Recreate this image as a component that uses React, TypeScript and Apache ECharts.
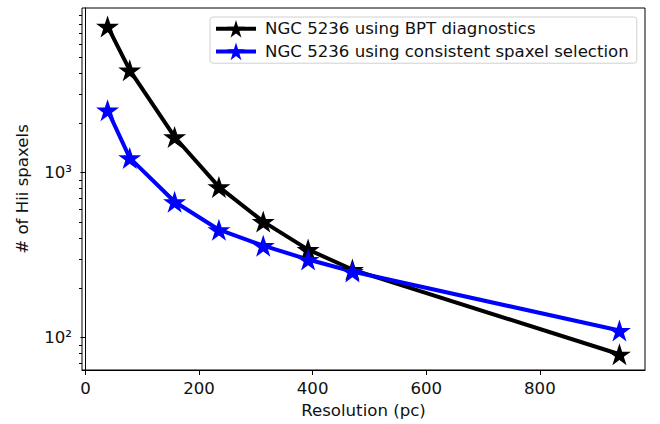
import React, { useEffect, useRef } from 'react';
import * as echarts from 'echarts';

// Resolution (pc)
const resolution = [39, 78, 157, 235, 313, 392, 470, 940];
// # of HII spaxels
const bptCounts = [7710, 4180, 1645, 819, 504, 341, 258, 79];
const consistentCounts = [2393, 1227, 665, 450, 360, 297, 251, 110];

const seriesNames = [
  'NGC 5236 using BPT diagnostics',
  'NGC 5236 using consistent spaxel selection',
];

const xTicks = [0, 200, 400, 600, 800];
const yMajorTicks = [100, 1000];
const yMajorLabels = ['10²', '10³'];
const yMinorTicks = [70, 80, 90, 200, 300, 400, 500, 600, 700, 800, 900, 2000, 3000, 4000, 5000, 6000, 7000, 8000, 9000];

const STAR =
  'path://M50,0L61.23,34.55L97.55,34.55L68.17,55.9L79.39,90.45L50,69.1L20.61,90.45L31.83,55.9L2.45,34.55L38.77,34.55Z';

const FONT = 'DejaVu Sans';
const FS = 16.6;

export default function App() {
  const ref = useRef<HTMLDivElement>(null);
  useEffect(() => {
    const chart = echarts.init(ref.current!, null, { renderer: 'svg' });
    const pair = (ys: number[]) => resolution.map((x, i) => [x, ys[i]]);
    const yFmt = (v: number) => {
      for (let i = 0; i < yMajorTicks.length; i++) {
        if (Math.abs(v - yMajorTicks[i]) / yMajorTicks[i] < 1e-6) return yMajorLabels[i];
      }
      return '';
    };
    chart.setOption({
      animation: false,
      backgroundColor: '#ffffff',
      textStyle: { fontFamily: FONT },
      grid: {
        left: 82,
        right: 15,
        top: 8,
        bottom: 54,
        show: true,
        borderColor: '#000',
        borderWidth: 1,
        backgroundColor: 'transparent',
      },
      legend: {
        orient: 'vertical',
        left: 210,
        top: 17,
        itemWidth: 40,
        itemHeight: 22,
        itemGap: 5,
        padding: [3, 8, 3, 4],
        borderColor: '#d0d0d0',
        borderWidth: 1,
        borderRadius: 3,
        backgroundColor: 'rgba(255,255,255,0.8)',
        lineStyle: { width: 4 },
        textStyle: { fontSize: FS, fontFamily: FONT, color: '#111', padding: [0, 0, 0, 4] },
        data: seriesNames,
      },
      xAxis: {
        type: 'value',
        min: -6,
        max: 985,
        name: 'Resolution (pc)',
        nameLocation: 'middle',
        nameGap: 31,
        nameTextStyle: { fontSize: FS, fontFamily: FONT, color: '#111' },
        axisLine: { show: true, onZero: false, lineStyle: { color: '#000', width: 1 } },
        axisTick: { show: true, inside: false, length: 5, customValues: xTicks, lineStyle: { color: '#000' } },
        axisLabel: { customValues: xTicks, fontSize: FS, fontFamily: FONT, color: '#111', margin: 10 },
        splitLine: { show: false },
      },
      yAxis: [
        {
          type: 'log',
          logBase: 10,
          min: 63.4,
          max: 9970,
          name: '# of Hii spaxels',
          nameLocation: 'middle',
          nameGap: 51,
          nameTextStyle: { fontSize: FS, fontFamily: FONT, color: '#111' },
          axisLine: { show: true, lineStyle: { color: '#000', width: 1 } },
          axisTick: { show: true, inside: false, length: 5, customValues: yMajorTicks, lineStyle: { color: '#000' } },
          axisLabel: {
            customValues: yMajorTicks,
            formatter: yFmt,
            fontSize: FS,
            fontFamily: FONT,
            color: '#111',
            margin: 10,
          },
          splitLine: { show: false },
        },
        {
          type: 'log',
          logBase: 10,
          min: 63.4,
          max: 9970,
          position: 'left',
          axisLine: { show: false },
          axisTick: { show: true, inside: false, length: 3, customValues: yMinorTicks, lineStyle: { color: '#000' } },
          axisLabel: { show: false },
          splitLine: { show: false },
        },
      ],
      series: [
        {
          name: seriesNames[0],
          type: 'line',
          data: pair(bptCounts),
          yAxisIndex: 0,
          color: '#000000',
          lineStyle: { width: 4, color: '#000000' },
          symbol: STAR,
          symbolSize: [23, 22],
          itemStyle: { color: '#000000' },
        },
        {
          name: seriesNames[1],
          type: 'line',
          data: pair(consistentCounts),
          yAxisIndex: 0,
          color: '#0000ff',
          lineStyle: { width: 4, color: '#0000ff' },
          symbol: STAR,
          symbolSize: [23, 22],
          itemStyle: { color: '#0000ff' },
        },
      ],
    });
    return () => chart.dispose();
  }, []);
  return (
    <div
      ref={ref}
      style={{ position: 'absolute', left: 0, top: 0, width: 660, height: 424, background: '#fff' }}
    />
  );
}
